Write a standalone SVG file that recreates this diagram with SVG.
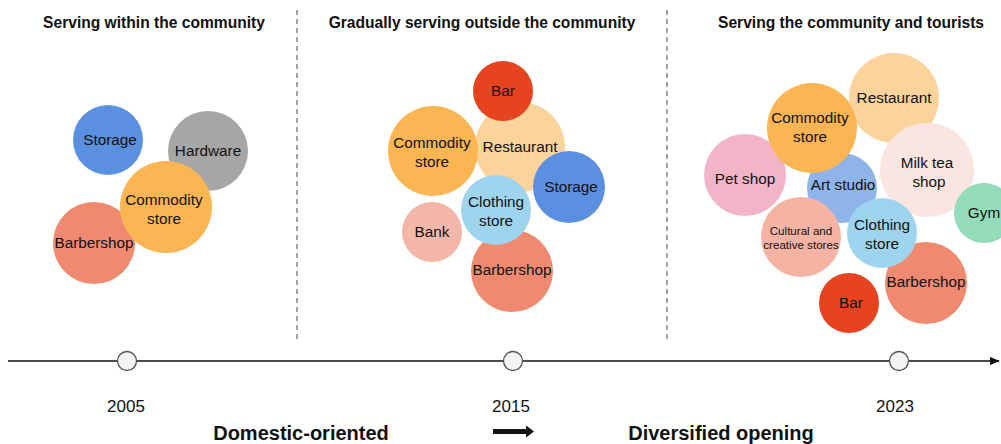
<svg xmlns="http://www.w3.org/2000/svg" width="1001" height="444" viewBox="0 0 1001 444">
<style>
.t{font-family:"Liberation Sans",Arial,sans-serif;font-weight:bold;font-size:15.6px;fill:#111;text-anchor:middle}
.l{font-family:"Liberation Sans",Arial,sans-serif;font-size:15.3px;fill:#111;text-anchor:middle}
.s{font-family:"Liberation Sans",Arial,sans-serif;font-size:11.6px;fill:#111;text-anchor:middle}
.y{font-family:"Liberation Sans",Arial,sans-serif;font-size:17px;fill:#111;text-anchor:middle}
.b{font-family:"Liberation Sans",Arial,sans-serif;font-weight:bold;font-size:20px;fill:#111;text-anchor:middle}
.sep{stroke:#666;stroke-width:1.2;stroke-dasharray:5,4;fill:none}
.tc{fill:#f4f4f4;stroke:#555;stroke-width:1.3}
</style>
<defs>
<marker id="ah" markerWidth="10" markerHeight="8" refX="9" refY="4" orient="auto" markerUnits="userSpaceOnUse">
<path d="M0,0 L10,4 L0,8 Z" fill="#111"/>
</marker>
</defs>
<rect width="1001" height="444" fill="#fff"/>
<text class="t" x="154" y="28">Serving within the community</text>
<text class="t" x="482" y="28">Gradually serving outside the community</text>
<text class="t" x="851" y="28">Serving the community and tourists</text>
<g id="connectors">
<line class="sep" x1="297" y1="10" x2="297" y2="342"/>
<line class="sep" x1="667" y1="10" x2="667" y2="342"/>
<line x1="8" y1="361" x2="999" y2="361" stroke="#111" stroke-width="1.3" marker-end="url(#ah)"/>
<path d="M493,429 L526,429 L526,425.5 L534,431.5 L526,437.5 L526,434 L493,434 Z" fill="#111"/>
</g>
<g id="p1">
<g id="p1-storage"><circle cx="108" cy="140" r="35" fill="#5b8fe0"/><text class="l" x="110" y="145">Storage</text></g>
<g id="p1-hardware"><circle cx="208" cy="151" r="40" fill="#a6a6a6"/><text class="l" x="208" y="156">Hardware</text></g>
<g id="p1-barbershop"><circle cx="94" cy="243" r="41" fill="#ef8a70"/><text class="l" x="94" y="248">Barbershop</text></g>
<g id="p1-commodity"><circle cx="166" cy="207" r="46" fill="#fbb553"/><text class="l" x="164" y="205">Commodity</text><text class="l" x="164" y="224">store</text></g>
</g>
<g id="p2">
<g id="p2-restaurant"><circle cx="520" cy="147" r="45" fill="#fcd49b"/><text class="l" x="520" y="152">Restaurant</text></g>
<g id="p2-bar"><circle cx="503" cy="91" r="30" fill="#e6431f"/><text class="l" x="503" y="96">Bar</text></g>
<g id="p2-commodity"><circle cx="433" cy="151" r="45" fill="#fbb553"/><text class="l" x="432" y="148">Commodity</text><text class="l" x="432" y="167">store</text></g>
<g id="p2-storage"><circle cx="569" cy="187" r="36" fill="#5b8fe0"/><text class="l" x="571" y="192">Storage</text></g>
<g id="p2-bank"><circle cx="432" cy="232" r="30" fill="#f4b6a8"/><text class="l" x="432" y="237">Bank</text></g>
<g id="p2-barbershop"><circle cx="512" cy="271" r="41" fill="#ef8a70"/><text class="l" x="512" y="275">Barbershop</text></g>
<g id="p2-clothing"><circle cx="496" cy="210" r="35" fill="#9fd4ee"/><text class="l" x="496" y="207">Clothing</text><text class="l" x="496" y="226">store</text></g>
</g>
<g id="p3">
<g id="p3-restaurant"><circle cx="894" cy="98" r="45" fill="#fcd49b"/><text class="l" x="894" y="103">Restaurant</text></g>
<g id="p3-milktea"><circle cx="927" cy="170" r="47" fill="#fae5e0"/><text class="l" x="927" y="168">Milk tea</text><text class="l" x="929" y="187">shop</text></g>
<g id="p3-gym"><circle cx="984" cy="213" r="30" fill="#93dbbb"/><text class="l" x="984" y="218">Gym</text></g>
<g id="p3-petshop"><circle cx="745" cy="175" r="41" fill="#f2b5c8"/><text class="l" x="745" y="184">Pet shop</text></g>
<g id="p3-artstudio"><circle cx="842" cy="188" r="35" fill="#8fb4ea"/><text class="l" x="843" y="190">Art studio</text></g>
<g id="p3-commodity"><circle cx="812" cy="128" r="45" fill="#fbb553"/><text class="l" x="810" y="123">Commodity</text><text class="l" x="810" y="142">store</text></g>
<g id="p3-cultural"><circle cx="801" cy="237" r="40" fill="#f5b3a3"/><text class="s" x="801" y="235">Cultural and</text><text class="s" x="801" y="249">creative stores</text></g>
<g id="p3-barbershop"><circle cx="926" cy="283" r="41" fill="#ef8a70"/><text class="l" x="926" y="287">Barbershop</text></g>
<g id="p3-clothing"><circle cx="882" cy="233" r="35" fill="#9fd4ee"/><text class="l" x="882" y="230">Clothing</text><text class="l" x="882" y="249">store</text></g>
<g id="p3-bar"><circle cx="849" cy="303" r="30" fill="#e6431f"/><text class="l" x="851" y="308">Bar</text></g>
</g>
<g id="timeline">
<g id="t2005"><circle class="tc" cx="127" cy="361" r="9.5"/><text class="y" x="126" y="412">2005</text></g>
<g id="t2015"><circle class="tc" cx="513" cy="361" r="9.5"/><text class="y" x="511" y="412">2015</text></g>
<g id="t2023"><circle class="tc" cx="899" cy="361" r="9.5"/><text class="y" x="895" y="412">2023</text></g>
</g>
<text class="b" x="301" y="440">Domestic-oriented</text>
<text class="b" x="721" y="440">Diversified opening</text>
</svg>
